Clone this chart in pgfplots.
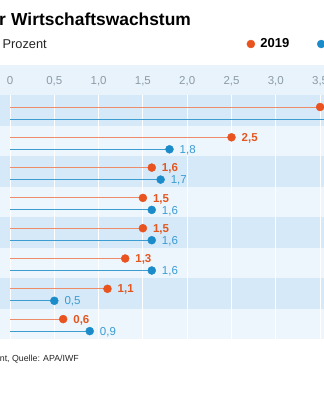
\documentclass[border=0pt]{standalone}
\usepackage{fontspec}
\setmainfont{Liberation Sans}
\usepackage{pgfplots}
\pgfplotsset{compat=1.18}
\definecolor{org}{HTML}{E8531F}
\definecolor{orgline}{HTML}{EC8C68}
\definecolor{orgtext}{HTML}{E4561F}
\definecolor{blu}{HTML}{1B8CC9}
\definecolor{bluline}{HTML}{3E9DD0}
\definecolor{blutext}{HTML}{3A9BD3}
\definecolor{bandD}{HTML}{D5E9F8}
\definecolor{bandL}{HTML}{EEF6FD}
\definecolor{bandH}{HTML}{E8F3FB}
\definecolor{tickgray}{HTML}{8C9BA8}
\begin{document}
\begin{tikzpicture}[x=1pt,y=1pt]
\path[use as bounding box] (0,0) rectangle (324,-400);
\clip (0,0) rectangle (324,-400);
\fill[white] (0,0) rectangle (324,-400);
% background bands
\fill[bandH] (0,-65) rectangle (324,-95);
\fill[bandD] (0,-95) rectangle (324,-125.5);
\fill[bandL] (0,-125.5) rectangle (324,-156);
\fill[bandD] (0,-156) rectangle (324,-186.5);
\fill[bandL] (0,-186.5) rectangle (324,-217);
\fill[bandD] (0,-217) rectangle (324,-247.5);
\fill[bandL] (0,-247.5) rectangle (324,-278);
\fill[bandD] (0,-278) rectangle (324,-308.5);
\fill[bandL] (0,-308.5) rectangle (324,-339);
\node[anchor=base east, inner sep=0pt, font=\bfseries\fontsize{17.4}{20}\selectfont, text=black] at (6.2,-25) {Prognose für};
\node[anchor=base west, inner sep=0pt, font=\bfseries\fontsize{17.4}{20}\selectfont, text=black] at (11,-25) {Wirtschaftswachstum};
\node[anchor=base east, inner sep=0pt, font=\fontsize{12.8}{15}\selectfont, text=black!85] at (47,-48.5) {Reales BIP, Veränderung in Prozent};
\node[anchor=base east, inner sep=0pt, font=\fontsize{8.8}{10}\selectfont, text=black!85] at (79,-361) {Angaben in Prozent, Quelle: APA/IWF};
\begin{axis}[
  at={(0,-95)}, anchor=north west,
  scale only axis, width=324pt, height=244pt,
  xmin=-0.11287, xmax=3.5440, ymin=-339, ymax=-95,
  axis line style={draw=none},
  ytick=\empty,
  xtick={0,0.5,1,1.5,2,2.5,3,3.5},
  xticklabels={0,{0,5},{1,0},{1,5},{2,0},{2,5},{3,0},{3,5}},
  xticklabel pos=upper, major tick length=0pt,
  xmajorgrids, grid style={white, line width=1pt},
  xticklabel style={anchor=base, yshift=11pt, font=\fontsize{11.5}{13}\selectfont, text=tickgray},
  /pgf/number format/use comma,
  /pgf/number format/fixed,
  /pgf/number format/fixed zerofill,
  /pgf/number format/precision=1,
  /pgf/number format/assume math mode=true,
  legend image code/.code={\fill[#1] (0pt,0pt) circle (4pt);},
  legend style={at={(axis description cs:0.7614,1.209)}, anchor=west, draw=none, fill=none,
    inner sep=0pt, outer sep=0pt, legend columns=-1,
    font=\bfseries\fontsize{13}{15}\selectfont,
    nodes={inner sep=0pt},
    /tikz/every odd column/.append style={column sep=5.3pt},
    /tikz/every even column/.append style={column sep=27.7pt}},
]
\addlegendimage{only marks, mark=*, org}
\addlegendentry{2019}
\addlegendimage{only marks, mark=*, blu}
\addlegendentry{2020}
% 2019
\addplot[xcomb, orgline, line width=1pt, forget plot] table {
x y
3.5 -107
2.5 -137.3
1.6 -167.6
1.5 -197.9
1.5 -228.2
1.3 -258.5
1.1 -288.8
0.6 -319.1
};
% 2020
\addplot[xcomb, bluline, line width=1pt, forget plot] table {
x y
4.0 -119
1.8 -149.3
1.7 -179.6
1.6 -209.9
1.6 -240.2
1.6 -270.5
0.5 -300.8
0.9 -331.1
};
\addplot[only marks, mark=*, mark size=4pt, org, forget plot,
  point meta=x, nodes near coords,
  every node near coord/.append style={anchor=base west, inner sep=0pt, xshift=10pt, yshift=-4.1pt,
    font=\bfseries\fontsize{11.5}{13}\selectfont, text=orgtext}] table {
x y
3.5 -107
2.5 -137.3
1.6 -167.6
1.5 -197.9
1.5 -228.2
1.3 -258.5
1.1 -288.8
0.6 -319.1
};
\addplot[only marks, mark=*, mark size=4pt, blu, forget plot,
  point meta=x, nodes near coords,
  every node near coord/.append style={anchor=base west, inner sep=0pt, xshift=10pt, yshift=-4.1pt,
    font=\fontsize{11.5}{13}\selectfont, text=blutext}] table {
x y
4.0 -119
1.8 -149.3
1.7 -179.6
1.6 -209.9
1.6 -240.2
1.6 -270.5
0.5 -300.8
0.9 -331.1
};
\end{axis}
\end{tikzpicture}
\end{document}
